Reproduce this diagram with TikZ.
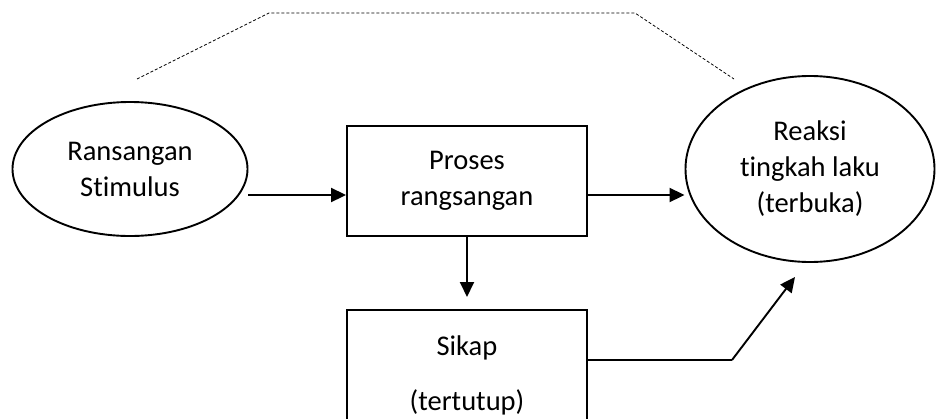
\documentclass[tikz,border=0pt]{standalone}
\usepackage{fontspec}
\setmainfont{Carlito}[RawFeature=-liga]
\usetikzlibrary{shapes.geometric,arrows.meta}

\tikzset{
  oval/.style={draw, ellipse, line width=1.9pt, inner sep=0pt, align=center},
  stepbox/.style={draw, rectangle, line width=1.9pt, minimum width=240pt, inner sep=0pt, align=center},
  flow/.style={line width=1.9pt, -{Triangle[length=15pt,width=14pt]}},
  thinlink/.style={line width=1.1pt},
  hull/.style={line width=0.8pt, dash pattern=on 3pt off 2pt},
}

\begin{document}
\begin{tikzpicture}[x=1pt, y=-1pt, font=\fontsize{28.5}{36}\selectfont]
  \clip (0,0) rectangle (937,418);
  \fill[white] (0,0) rectangle (937,418);

  % nodes
  \node[oval, minimum width=235pt, minimum height=134pt] (lell) at (130,169) {Ransangan\\Stimulus};
  \node[stepbox, minimum height=110pt] (proc) at (467,181) {Proses\\rangsangan};
  \node[oval, minimum width=249pt, minimum height=186pt] (rell) at (810,169) {Reaksi\\tingkah laku\\(terbuka)};
  \node[stepbox, minimum height=130pt] (sik) at (467,375) {Sikap\\[19pt](tertutup)};

  % free ends and bends
  \coordinate (downtip) at (467,297);
  \coordinate (bend) at (732,360);
  \coordinate (uptip) at (795,277);
  \coordinate (h1) at (137,79);
  \coordinate (h2) at (269,13);
  \coordinate (h3) at (635,13);
  \coordinate (h4) at (734,79);

  % connectors
  \draw[flow] ([yshift=-26pt]lell.east) -- ([yshift=-14pt]proc.west);
  \draw[flow] ([yshift=-14pt]proc.east) -- ([yshift=-26pt]rell.west);
  \draw[flow] (proc.south) -- (downtip);
  \draw[thinlink] ([yshift=15pt]sik.east) -- (bend);
  \draw[flow] (bend) -- (uptip);

  % dashed outline over the top
  \draw[hull] (h1) -- (h2) -- (h3) -- (h4);
\end{tikzpicture}
\end{document}
